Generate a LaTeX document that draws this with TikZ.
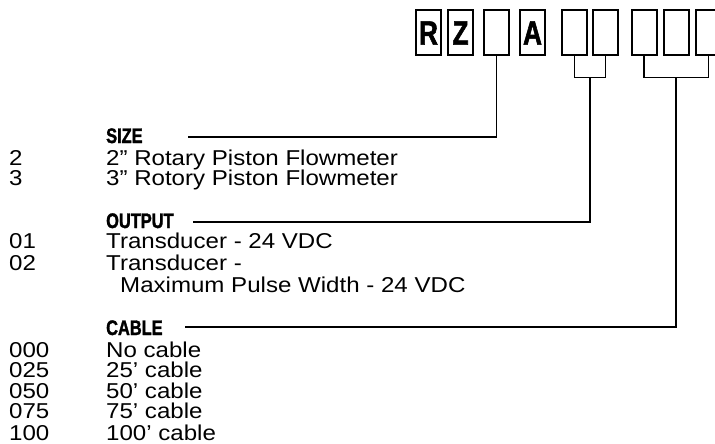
\documentclass[tikz,border=0pt]{standalone}
\usepackage{fontspec}
\setmainfont{Liberation Sans}[FakeStretch=1.12]
\newfontfamily\headfont{Liberation Sans}[FakeStretch=0.78, BoldFeatures={FakeBold=1.6}]
\usetikzlibrary{positioning,calc}

\tikzset{
    digitbox/.style={
        draw, line width=2pt, inner sep=0pt,
        minimum width=25pt, minimum height=45pt,
        font=\headfont\bfseries\fontsize{33.5}{33.5}\selectfont
    },
    heading/.style={
        anchor=base west, inner sep=0pt,
        font=\headfont\bfseries\fontsize{21}{21}\selectfont
    },
    entry/.style={
        anchor=base west, inner sep=0pt,
        font=\fontsize{21.5}{21.5}\selectfont
    },
    leader/.style={line width=1.6pt}
}

\begin{document}
\begin{tikzpicture}[x=1pt, y=-1pt]

    \useasboundingbox (0,0) rectangle (715,444);

    % model code boxes
    \node[digitbox] (boxR)    at (428.5,33) {R};
    \node[digitbox] (boxZ)    at (460.5,33) {Z};
    \node[digitbox] (boxSize) at (496.5,33) {};
    \node[digitbox] (boxA)    at (532.5,33) {A};
    \node[digitbox] (boxOut1) at (574.5,33) {};
    \node[digitbox] (boxOut2) at (605.5,33) {};
    \node[digitbox] (boxCab1) at (644,33) {};
    \node[digitbox] (boxCab2) at (676,33) {};
    \node[digitbox] (boxCab3) at (708.5,33) {};

    % size
    \node[heading] (sizeHead) at (106,143) {SIZE};
    \node[entry] (sizeCode2) at (9,165) {2};
    \node[entry] (sizeText2) at (106,165) {2” Rotary Piston Flowmeter};
    \node[entry] (sizeCode3) at (9,185) {3};
    \node[entry] (sizeText3) at (106,185) {3” Rotory Piston Flowmeter};

    \coordinate (sizeEnd) at (188,137);
    \draw[leader]
        (boxSize.south) |-
        (sizeEnd);

    % output
    \node[heading] (outHead) at (106,228) {OUTPUT};
    \node[entry] (outCode1) at (9,248) {01};
    \node[entry] (outText1) at (106,248) {Transducer - 24 VDC};
    \node[entry] (outCode2) at (9,270) {02};
    \node[entry] (outText2) at (106,270) {Transducer -};
    \node[entry] (outText2b) at (120,292) {Maximum Pulse Width - 24 VDC};

    \coordinate (outL) at ($(boxOut1.south)+(0,21)$);
    \coordinate (outR) at ($(boxOut2.south)+(0,21)$);
    \coordinate (outM) at ($(outL)!0.5!(outR)$);
    \coordinate (outEnd) at (193,222);
    \draw[leader]
        (boxOut1.south) --
        (outL) --
        (outR) --
        (boxOut2.south);
    \draw[leader]
        (outM) |-
        (outEnd);

    % cable
    \node[heading] (cabHead) at (106,335) {CABLE};
    \foreach \code/\len/\y in {000/No cable/357, 025/25’ cable/377,
                               050/50’ cable/398, 075/75’ cable/418,
                               100/100’ cable/440} {
        \node[entry] (cabCode\code) at (9,\y) {\code};
        \node[entry] (cabText\code) at (106,\y) {\len};
    }

    \coordinate (cabL) at ($(boxCab1.south)+(0,21)$);
    \coordinate (cabR) at ($(boxCab3.south)+(0,21)$);
    \coordinate (cabM) at ($(cabL)!0.5!(cabR)$);
    \coordinate (cabEnd) at (185,327);
    \draw[leader]
        (boxCab1.south) --
        (cabL) --
        (cabR) --
        (boxCab3.south);
    \draw[leader]
        (cabM) |-
        (cabEnd);

\end{tikzpicture}
\end{document}
